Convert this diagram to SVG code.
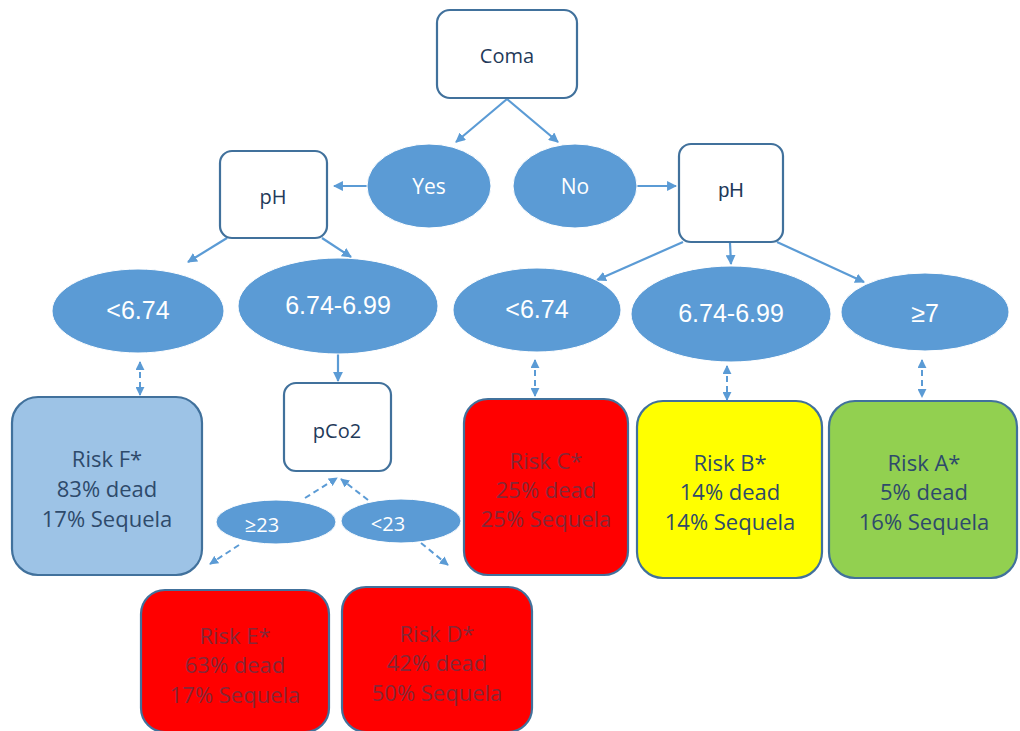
<svg xmlns="http://www.w3.org/2000/svg" width="1020" height="731" viewBox="0 0 1020 731">
<defs>
<style>
.box{fill:#fff;stroke:#41719c;stroke-width:2.2}
.risk{stroke:#41719c;stroke-width:2.2}
.ell{fill:#5b9bd5;stroke:#fff;stroke-width:1}
.t{font-family:"Open Sans","Liberation Sans",sans-serif;text-anchor:middle;dominant-baseline:central}
.tb{font-size:20px;fill:#1f3a5a}
.te{font-size:21px;fill:#fff}
.tn{font-family:"Liberation Sans",Arial,sans-serif;text-anchor:middle;dominant-baseline:central;fill:#fff;font-size:25px}
.rt{font-size:22px;fill:#2e4a6b}
.rr{font-size:22px;fill:#852838}
.c{stroke:#5b9bd5;stroke-width:2.2;fill:none}
.d{stroke:#5b9bd5;stroke-width:2;fill:none;stroke-dasharray:6,4}
</style>
<marker id="ah" viewBox="0 0 10 10" refX="9" refY="5" markerWidth="4.5" markerHeight="4.5" orient="auto-start-reverse" markerUnits="strokeWidth">
<path d="M0,0 L10,5 L0,10 z" fill="#5b9bd5"/>
</marker>
</defs>
<rect width="1020" height="731" fill="#fff"/>
<g id="connectors">
<line class="c" x1="507" y1="99" x2="456" y2="142" marker-end="url(#ah)"/>
<line class="c" x1="507" y1="99" x2="558" y2="142" marker-end="url(#ah)"/>
<line class="c" x1="367" y1="186" x2="334" y2="186" marker-end="url(#ah)"/>
<line class="c" x1="637" y1="186" x2="676" y2="186" marker-end="url(#ah)"/>
<line class="c" x1="227" y1="238" x2="188" y2="262" marker-end="url(#ah)"/>
<line class="c" x1="322" y1="238" x2="351" y2="257" marker-end="url(#ah)"/>
<line class="c" x1="338" y1="354" x2="338" y2="381" marker-end="url(#ah)"/>
<line class="c" x1="683" y1="242" x2="597" y2="280" marker-end="url(#ah)"/>
<line class="c" x1="730" y1="243" x2="731" y2="264" marker-end="url(#ah)"/>
<line class="c" x1="777" y1="242" x2="864" y2="282" marker-end="url(#ah)"/>
<line class="d" x1="140" y1="362" x2="140" y2="395" marker-start="url(#ah)" marker-end="url(#ah)"/>
<line class="d" x1="535" y1="360" x2="535" y2="396" marker-start="url(#ah)" marker-end="url(#ah)"/>
<line class="d" x1="727" y1="366" x2="727" y2="400" marker-start="url(#ah)" marker-end="url(#ah)"/>
<line class="d" x1="922" y1="360" x2="922" y2="397" marker-start="url(#ah)" marker-end="url(#ah)"/>
<line class="d" x1="305" y1="498" x2="337" y2="478" marker-end="url(#ah)"/>
<line class="d" x1="368" y1="500" x2="341" y2="479" marker-end="url(#ah)"/>
<line class="d" x1="239" y1="545" x2="210" y2="564" marker-end="url(#ah)"/>
<line class="d" x1="421" y1="543" x2="448" y2="565" marker-end="url(#ah)"/>
</g>
<g id="coma"><rect class="box" x="437" y="10" width="140" height="88" rx="13"/><text class="t tb" x="507" y="55">Coma</text></g>
<g id="yes"><ellipse class="ell" cx="429" cy="186" rx="62" ry="42"/><text class="t te" x="429" y="186">Yes</text></g>
<g id="no"><ellipse class="ell" cx="575" cy="186" rx="62" ry="42"/><text class="t te" x="575" y="186">No</text></g>
<g id="ph-left"><rect class="box" x="220" y="151" width="107" height="87" rx="12"/><text class="t tb" x="273" y="196">pH</text></g>
<g id="ph-right"><rect class="box" x="679" y="144" width="104" height="98" rx="12"/><text class="tn" style="fill:#1f3a5a;font-size:20px" x="731" y="190">pH</text></g>
<g id="l-lt674"><ellipse class="ell" cx="138" cy="311" rx="86" ry="42"/><text class="tn" x="138" y="310">&lt;6.74</text></g>
<g id="l-674"><ellipse class="ell" cx="338" cy="306" rx="100" ry="48"/><text class="tn" x="338" y="305">6.74-6.99</text></g>
<g id="r-lt674"><ellipse class="ell" cx="537" cy="310" rx="84" ry="42"/><text class="tn" x="537" y="309">&lt;6.74</text></g>
<g id="r-674"><ellipse class="ell" cx="731" cy="314" rx="100" ry="48"/><text class="tn" x="731" y="313">6.74-6.99</text></g>
<g id="r-ge7"><ellipse class="ell" cx="925" cy="312" rx="84" ry="39"/><text class="tn" x="925" y="313">≥7</text></g>
<g id="pco2"><rect class="box" x="284" y="383" width="107" height="88" rx="12"/><text class="t tb" x="337" y="430">pCo2</text></g>
<g id="ge23"><ellipse class="ell" cx="276" cy="522" rx="60" ry="22"/><text class="t te" style="font-size:20px" x="262" y="524">≥23</text></g>
<g id="lt23"><ellipse class="ell" cx="401" cy="521" rx="60" ry="22"/><text class="t te" style="font-size:20px" x="388" y="523">&lt;23</text></g>
<g id="risk-f"><rect class="risk" fill="#9dc3e6" x="12" y="397" width="190" height="178" rx="26"/>
<text class="t rt" x="107" y="458">Risk F*</text><text class="t rt" x="107" y="488">83% dead</text><text class="t rt" x="107" y="518">17% Sequela</text></g>
<g id="risk-c"><rect class="risk" fill="#ff0000" x="464" y="399" width="164" height="176" rx="24"/>
<text class="t rr" x="546" y="460">Risk C*</text><text class="t rr" x="546" y="489">25% dead</text><text class="t rr" x="546" y="518">25% Sequela</text></g>
<g id="risk-b"><rect class="risk" fill="#ffff00" x="637" y="401" width="185" height="177" rx="26"/>
<text class="t rt" x="730" y="462">Risk B*</text><text class="t rt" x="730" y="491">14% dead</text><text class="t rt" x="730" y="521">14% Sequela</text></g>
<g id="risk-a"><rect class="risk" fill="#92d050" x="829" y="401" width="188" height="177" rx="26"/>
<text class="t rt" x="924" y="462">Risk A*</text><text class="t rt" x="924" y="491">5% dead</text><text class="t rt" x="924" y="521">16% Sequela</text></g>
<g id="risk-e"><rect class="risk" fill="#ff0000" x="141" y="590" width="188" height="142" rx="24"/>
<text class="t rr" x="235" y="635">Risk E*</text><text class="t rr" x="235" y="664">63% dead</text><text class="t rr" x="235" y="694">17% Sequela</text></g>
<g id="risk-d"><rect class="risk" fill="#ff0000" x="342" y="587" width="190" height="145" rx="24"/>
<text class="t rr" x="437" y="633">Risk D*</text><text class="t rr" x="437" y="662">42% dead</text><text class="t rr" x="437" y="692">50% Sequela</text></g>
</svg>
